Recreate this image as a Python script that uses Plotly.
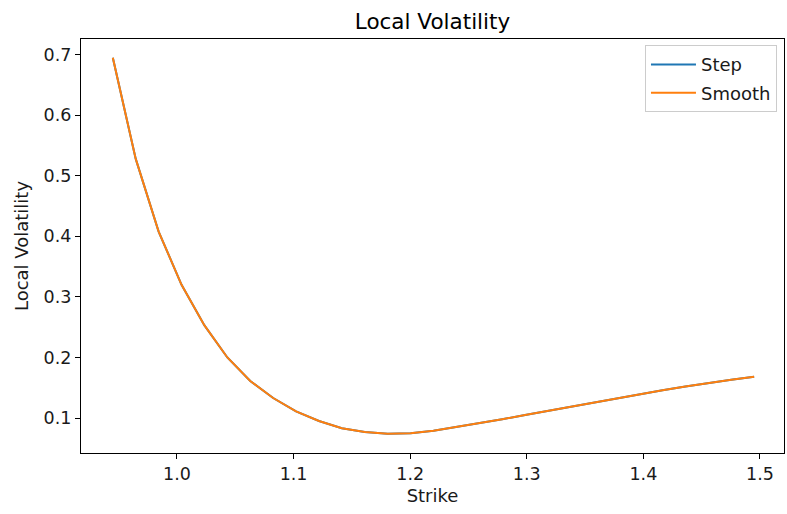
import numpy as np
import plotly.graph_objects as go

strike = np.linspace(0.945, 1.495, 29)
step_vol = [0.695, 0.528, 0.408, 0.320, 0.253, 0.200, 0.161, 0.133, 0.111, 0.095,
            0.083, 0.077, 0.074, 0.075, 0.079, 0.085, 0.091, 0.098, 0.105, 0.112,
            0.119, 0.126, 0.133, 0.140, 0.146, 0.152, 0.158, 0.163, 0.168]
smooth_vol = list(step_vol)

x_ticks = [1.0, 1.1, 1.2, 1.3, 1.4, 1.5]
y_ticks = [0.1, 0.2, 0.3, 0.4, 0.5, 0.6, 0.7]

FONT = "DejaVu Sans"
TXT = "#1a1a1a"

fig = go.Figure()
fig.add_trace(go.Scatter(x=strike, y=step_vol, mode="lines", name="Step",
                         line=dict(color="#1f77b4", width=2), legendgroup="a"))
fig.add_trace(go.Scatter(x=strike, y=smooth_vol, mode="lines", name="Smooth",
                         line=dict(color="#ff7f0e", width=2), legendgroup="b"))

axis_common = dict(showline=True, mirror=True, linecolor="black", linewidth=1.3,
                   ticks="outside", ticklen=5, tickwidth=1.2, tickcolor="black",
                   showgrid=False, zeroline=False,
                   tickfont=dict(family=FONT, size=17.5, color=TXT))

fig.update_layout(
    width=787, height=514,
    margin=dict(l=81, r=3, t=39, b=61),
    paper_bgcolor="white", plot_bgcolor="white",
    title=dict(text="Local Volatility", x=(81 + 784) / 2 / 787, xanchor="center",
               y=1 - 21 / 514, yanchor="middle",
               font=dict(family=FONT, size=21.5, color="black")),
    xaxis=dict(range=[0.9177, 1.5206], tickvals=x_ticks, tickformat=".1f",
               title=dict(text="Strike", font=dict(family=FONT, size=18, color=TXT), standoff=6),
               **axis_common),
    yaxis=dict(range=[0.0422, 0.726], tickvals=y_ticks, tickformat=".1f",
               title=dict(text="Local Volatility", font=dict(family=FONT, size=18, color=TXT), standoff=10),
               **axis_common),
    legend=dict(x=0.99, y=0.985, xanchor="right", yanchor="top",
                bordercolor="#cccccc", borderwidth=1, bgcolor="rgba(255,255,255,0.8)",
                font=dict(family=FONT, size=18, color=TXT),
                itemwidth=45, tracegroupgap=2),
    showlegend=True,
)

fig.write_html("out.html")
